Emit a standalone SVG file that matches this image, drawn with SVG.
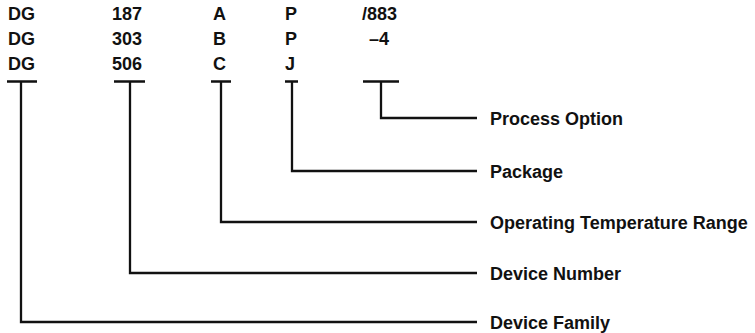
<svg xmlns="http://www.w3.org/2000/svg" width="755" height="333" viewBox="0 0 755 333">
<style>
text{font-family:"Liberation Sans",Arial,sans-serif;font-weight:bold;font-size:18px;fill:#111}
.ln{fill:none;stroke:#111;stroke-width:2.3;stroke-linecap:butt;stroke-linejoin:miter}
</style>
<rect width="755" height="333" fill="#fff"/>
<g id="codes">
<g id="col-family"><text x="8" y="20">DG</text><text x="8" y="45">DG</text><text x="8" y="70">DG</text></g>
<g id="col-number"><text x="112" y="20">187</text><text x="112" y="45">303</text><text x="112" y="70">506</text></g>
<g id="col-temp"><text x="213" y="20">A</text><text x="213" y="45">B</text><text x="213" y="70">C</text></g>
<g id="col-package"><text x="285" y="20">P</text><text x="285" y="45">P</text><text x="285" y="70">J</text></g>
<g id="col-option"><text x="362" y="20">/883</text><text x="369" y="45">–4</text></g>
</g>
<g id="connectors">
<path class="ln" d="M7 81.5H37M21 81.5V322H477"/>
<path class="ln" d="M114 81.5H145M130 81.5V273H477"/>
<path class="ln" d="M211 81.5H231M221 81.5V222H477"/>
<path class="ln" d="M285 81.5H298M292 81.5V171H477"/>
<path class="ln" d="M363 81.5H399M381 81.5V118H477"/>
</g>
<g id="labels">
<g id="lbl-option"><text x="490" y="124.5">Process Option</text></g>
<g id="lbl-package"><text x="490" y="177.5">Package</text></g>
<g id="lbl-temp"><text x="490" y="228.5">Operating Temperature Range</text></g>
<g id="lbl-number"><text x="490" y="279.5">Device Number</text></g>
<g id="lbl-family"><text x="490" y="328.5">Device Family</text></g>
</g>
</svg>
